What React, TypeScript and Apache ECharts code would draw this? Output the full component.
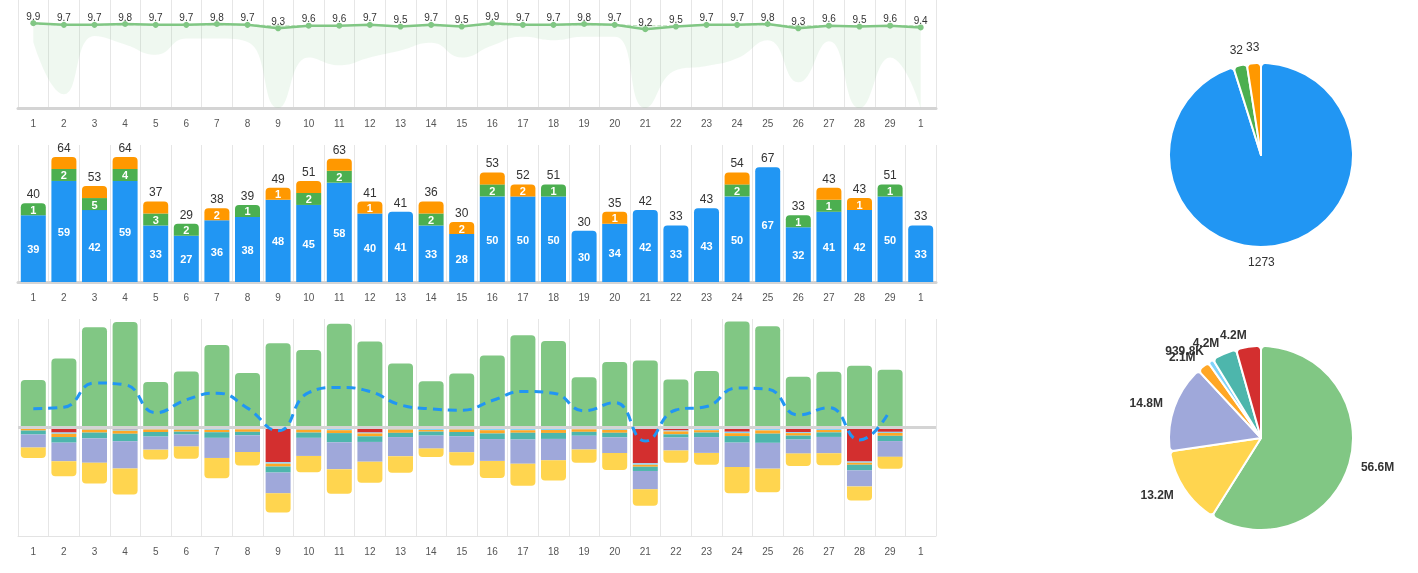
import React, { useEffect, useRef } from "react";
import * as echarts from "echarts";

const categories = ["1","2","3","4","5","6","7","8","9","10","11","12","13","14","15","16","17","18","19","20","21","22","23","24","25","26","27","28","29","1"];

// top chart: rating line and band
const ratingValues = [9.9, 9.7, 9.7, 9.8, 9.7, 9.7, 9.8, 9.7, 9.3, 9.6, 9.6, 9.7, 9.5, 9.7, 9.5, 9.9, 9.7, 9.7, 9.8, 9.7, 9.2, 9.5, 9.7, 9.7, 9.8, 9.3, 9.6, 9.5, 9.6, 9.4];
const bandLow = [7.7, 1.6, 8.4, 7.4, 6.2, 8.1, 8.1, 7.7, 0, 5.9, 5.0, 5.9, 6.7, 7.6, 5.9, 7.3, 8.3, 7.9, 8.3, 8.3, 0, 4.4, 4.9, 5.8, 7.9, 3.0, 7.8, 0, 5.9, 0];
const bandHigh = [9.8, 9.7, 9.7, 9.7, 9.7, 9.7, 9.7, 9.7, 9.6, 9.6, 9.6, 9.7, 9.6, 9.6, 9.6, 9.7, 9.7, 9.7, 9.7, 9.7, 9.6, 9.6, 9.7, 9.7, 9.7, 9.6, 9.6, 9.6, 9.6, 9.6];

// middle chart: stacked counts
const blueCounts = [39, 59, 42, 59, 33, 27, 36, 38, 48, 45, 58, 40, 41, 33, 28, 50, 50, 50, 30, 34, 42, 33, 43, 50, 67, 32, 41, 42, 50, 33];
const greenCounts = [1, 2, 5, 4, 3, 2, null, 1, null, 2, 2, null, null, 2, null, 2, null, 1, null, null, null, null, null, 2, null, 1, 1, null, 1, null];
const orangeCounts = [null, 3, 6, 1, 1, null, 2, null, 1, 4, 3, 1, null, 1, 2, 1, 2, null, null, 1, null, null, null, 2, null, null, 1, 1, null, null];

// bottom chart (thousands)
const greenAmount = [1310, 1910, 2770, 2920, 1260, 1550, 2280, 1510, 2330, 2140, 2870, 2380, 1770, 1280, 1490, 1990, 2550, 2390, 1390, 1810, 1850, 1330, 1560, 2930, 2800, 1400, 1540, 1710, 1600, null];
const redAmount = [5, 139, 30, 55, 15, 36, 36, 15, 960, 15, 40, 139, 28, 40, 10, 40, 40, 40, 10, 36, 990, 83, 40, 117, 40, 130, 40, 940, 120, null];
const lightBlueAmount = [25, 35, 30, 35, 40, 25, 30, 35, 40, 45, 35, 25, 30, 30, 45, 35, 35, 30, 40, 30, 40, 25, 35, 40, 40, 25, 30, 35, 30, null];
const orangeAmount = [55, 90, 80, 80, 70, 55, 65, 70, 80, 80, 80, 80, 90, 45, 70, 90, 70, 80, 70, 80, 55, 80, 65, 80, 90, 70, 65, 55, 80, null];
const tealAmount = [108, 155, 160, 213, 126, 79, 155, 96, 166, 146, 254, 155, 117, 108, 117, 155, 184, 166, 108, 126, 117, 88, 126, 181, 254, 108, 126, 155, 146, null];
const purpleAmount = [361, 514, 675, 750, 361, 333, 556, 464, 575, 500, 742, 547, 528, 361, 444, 603, 675, 592, 381, 436, 508, 361, 436, 675, 714, 389, 453, 444, 436, null];
const yellowAmount = [290, 415, 575, 720, 272, 336, 560, 372, 532, 448, 680, 580, 456, 232, 364, 476, 608, 560, 364, 468, 456, 336, 328, 722, 652, 344, 328, 392, 328, null];
const netAmount = [520, 560, 1230, 1180, 410, 765, 950, 535, -90, 965, 1105, 995, 625, 515, 480, 745, 995, 950, 460, 690, -375, 485, 580, 1090, 1060, 345, 550, -345, 485, null];

const pieAmountNames = ["green", "yellow", "purple", "orange", "lightblue", "teal", "red"];
const pieAmountValues = [56600000, 13200000, 14800000, 2100000, 939800, 4200000, 4200000];

const C = {
  blue: "#2196f3",
  green: "#4caf50",
  orange: "#ff9800",
  lgreen: "#81c784",
  red: "#d32f2f",
  lblue: "#81d4fa",
  orange2: "#ffa726",
  teal: "#4db6ac",
  purple: "#9fa8da",
  yellow: "#ffd54f",
};
const FONT = "Liberation Sans, Arial, sans-serif";

function fmtAmount(v: number) {
  if (v >= 1e6) return (v / 1e6).toFixed(1) + "M";
  return (v / 1e3).toFixed(1) + "K";
}

export default function App() {
  const ref = useRef<HTMLDivElement>(null);
  useEffect(() => {
    if (!ref.current) return;
    const chart = echarts.init(ref.current, undefined, { renderer: "svg" });

    const sum = (a: (number | null)[]) => a.reduce((s: number, v) => s + (v || 0), 0);
    const midData = blueCounts.map((b, i) => [i, b, greenCounts[i] ?? 0, orangeCounts[i] ?? 0]);
    const midColors = [C.blue, C.green, C.orange];
    const SEG_MIN = 12;

    const xAxisBase = (gridIndex: number, thick: boolean) => ({
      type: "category",
      gridIndex,
      data: categories,
      axisLine: { onZero: false, lineStyle: { color: thick ? "#d4d4d4" : "#e3e3e3", width: thick ? 3 : 1 } },
      axisTick: { length: 7, lineStyle: { color: "#dedede" } },
      axisLabel: { color: "#555", fontSize: 10, margin: 10, fontFamily: FONT },
      splitLine: { show: true, lineStyle: { color: "#e6e6e6" } },
    });

    const negSeries = (name: string, arr: (number | null)[], color: string, last = false) => ({
      type: "bar",
      name,
      xAxisIndex: 2,
      yAxisIndex: 2,
      stack: "amt",
      barWidth: 25,
      data: arr.map((v) => (v == null ? null : -v)),
      itemStyle: { color, borderRadius: last ? [0, 0, 4, 4] : 0 },
      silent: true,
    });

    const option: any = {
      animation: false,
      textStyle: { fontFamily: FONT },
      grid: [
        { left: 18, width: 918, top: 0, height: 108 },
        { left: 18, width: 918, top: 145, height: 137 },
        { left: 18, width: 918, top: 319, height: 217 },
      ],
      xAxis: [xAxisBase(0, true), xAxisBase(1, true), xAxisBase(2, false)],
      yAxis: [
        { type: "value", gridIndex: 0, min: 0, max: 12.6, show: false },
        { type: "value", gridIndex: 1, min: 0, max: 80, show: false },
        { type: "value", gridIndex: 2, min: -3000, max: 3000, show: false },
      ],
      series: [
        {
          type: "line",
          xAxisIndex: 0,
          yAxisIndex: 0,
          stack: "band",
          data: bandLow,
          smooth: true,
          symbol: "none",
          lineStyle: { opacity: 0 },
          silent: true,
        },
        {
          type: "line",
          xAxisIndex: 0,
          yAxisIndex: 0,
          stack: "band",
          data: bandHigh.map((h, i) => +(h - bandLow[i]).toFixed(2)),
          smooth: true,
          symbol: "none",
          lineStyle: { width: 1, type: "dashed", color: "rgba(129,199,132,0.5)" },
          areaStyle: { color: "rgba(129,199,132,0.18)" },
          silent: true,
        },
        {
          type: "line",
          xAxisIndex: 0,
          yAxisIndex: 0,
          data: ratingValues,
          symbol: "circle",
          symbolSize: 6,
          itemStyle: { color: C.lgreen },
          lineStyle: { width: 2.5, color: C.lgreen },
          label: { show: true, position: "top", distance: 0, offset: [0, 1], color: "#333", fontSize: 10, fontFamily: FONT },
          z: 5,
        },
        {
          type: "custom",
          xAxisIndex: 1,
          yAxisIndex: 1,
          data: midData,
          encode: { x: 0, y: [1, 2, 3] },
          silent: true,
          renderItem: (params: any, api: any) => {
            const i = api.value(0);
            const vals = [api.value(1), api.value(2), api.value(3)];
            const zero = api.coord([i, 0]);
            const bw = 25;
            const x = zero[0] - bw / 2;
            let y = zero[1];
            let top = -1;
            vals.forEach((v: number, k: number) => {
              if (v > 0) top = k;
            });
            const children: any[] = [];
            let total = 0;
            vals.forEach((v: number, k: number) => {
              if (!(v > 0)) return;
              total += v;
              let h = zero[1] - api.coord([i, v])[1];
              if (k > 0) h = Math.max(h, SEG_MIN);
              children.push({
                type: "rect",
                shape: { x, y: y - h, width: bw, height: h, r: k === top ? [4, 4, 0, 0] : 0 },
                style: { fill: midColors[k] },
              });
              const showLbl = k !== 2 || !(vals[1] > 0);
              if (showLbl) {
                children.push({
                  type: "text",
                  x: zero[0],
                  y: y - h / 2 + 0.5,
                  style: {
                    text: String(v),
                    fill: "#fff",
                    fontSize: 11,
                    fontWeight: "bold",
                    fontFamily: FONT,
                    align: "center",
                    verticalAlign: "middle",
                  },
                });
              }
              y -= h;
            });
            children.push({
              type: "text",
              x: zero[0],
              y: y - 3,
              style: {
                text: String(total),
                fill: "#333",
                fontSize: 12,
                fontFamily: FONT,
                align: "center",
                verticalAlign: "bottom",
              },
            });
            return { type: "group", children };
          },
        },
        {
          type: "bar",
          xAxisIndex: 2,
          yAxisIndex: 2,
          stack: "amt",
          barWidth: 25,
          data: greenAmount,
          itemStyle: { color: C.lgreen, borderRadius: [4, 4, 0, 0] },
          silent: true,
          markLine: {
            silent: true,
            symbol: "none",
            label: { show: false },
            lineStyle: { color: "#d4d4d4", width: 3, type: "solid" },
            data: [{ yAxis: 0 }],
          },
        },
        negSeries("red", redAmount, C.red),
        negSeries("lightblue", lightBlueAmount, C.lblue),
        negSeries("orange", orangeAmount, C.orange2),
        negSeries("teal", tealAmount, C.teal),
        negSeries("purple", purpleAmount, C.purple),
        negSeries("yellow", yellowAmount, C.yellow, true),
        {
          type: "line",
          xAxisIndex: 2,
          yAxisIndex: 2,
          data: netAmount,
          smooth: true,
          symbol: "none",
          lineStyle: { color: "#2196f3", width: 3, type: [9, 6] },
          z: 10,
          silent: true,
        },
        {
          type: "pie",
          center: [1261, 155],
          radius: 92,
          avoidLabelOverlap: false,
          itemStyle: { borderColor: "#fff", borderWidth: 2, borderRadius: 4 },
          label: {
            show: true,
            position: "outside",
            color: "#333",
            fontSize: 12,
            fontFamily: FONT,
            distanceToLabelLine: 0,
            formatter: (p: any) => String(p.value),
          },
          labelLine: { show: false, length: 16, length2: 0 },
          labelLayout: (p: any) => ({ align: "center", dx: p.dataIndex === 0 ? -16 : 0, hideOverlap: false }),
          data: [
            { name: "blue", value: sum(blueCounts), itemStyle: { color: C.blue } },
            { name: "green", value: sum(greenCounts), itemStyle: { color: C.green } },
            { name: "orange", value: sum(orangeCounts), itemStyle: { color: C.orange } },
          ],
        },
        {
          type: "pie",
          center: [1261, 438],
          radius: 92,
          avoidLabelOverlap: false,
          itemStyle: { borderColor: "#fff", borderWidth: 2, borderRadius: 4 },
          label: {
            show: true,
            position: "outside",
            color: "#333",
            fontSize: 12,
            fontWeight: "bold",
            fontFamily: FONT,
            distanceToLabelLine: 0,
            formatter: (p: any) => fmtAmount(p.value),
          },
          labelLine: { show: false, length: 12, length2: 0 },
          labelLayout: { hideOverlap: false },
          data: pieAmountNames.map((n, i) => ({
            name: n,
            value: pieAmountValues[i],
            itemStyle: {
              color: [C.lgreen, C.yellow, C.purple, C.orange2, C.lblue, C.teal, C.red][i],
            },
          })),
        },
      ],
    };
    chart.setOption(option);
    return () => chart.dispose();
  }, []);
  return <div ref={ref} style={{ position: "fixed", left: 0, top: 0, width: 1418, height: 573 }} />;
}
